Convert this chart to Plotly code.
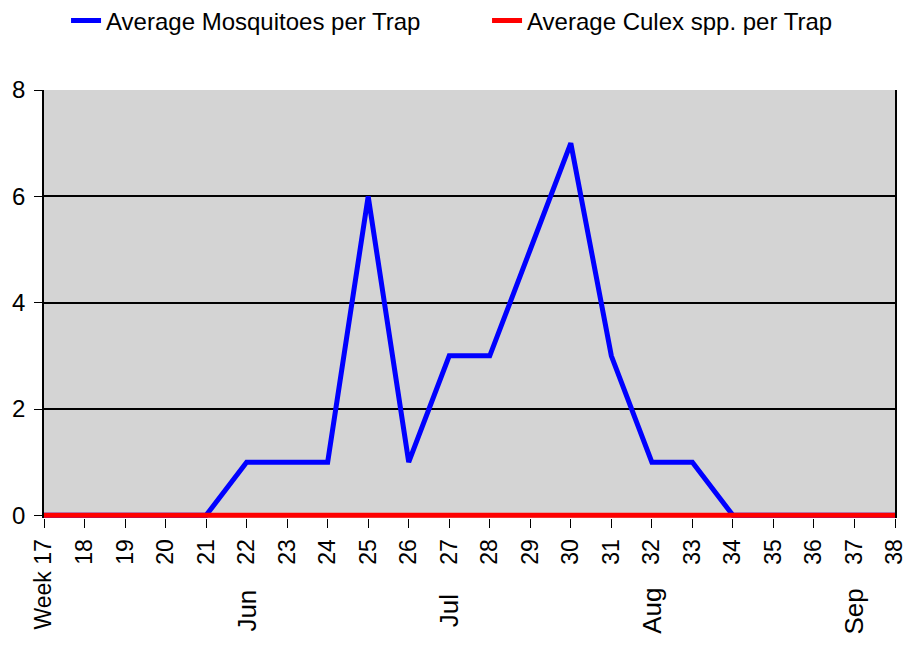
import plotly.graph_objects as go

weeks = list(range(17, 39))
week_labels = ["Week 17"] + [str(w) for w in range(18, 39)]
avg_mosquitoes = [0, 0, 0, 0, 0, 1, 1, 1, 6, 1, 3, 3, 5, 7, 3, 1, 1, 0, 0, 0, 0, 0]
avg_culex = [0] * 22
month_weeks = [22, 27, 32, 37]
month_labels = ["Jun", "Jul", "Aug", "Sep"]

FONT = "Arial, Liberation Sans, sans-serif"

fig = go.Figure()
fig.add_trace(go.Scatter(
    x=weeks, y=avg_mosquitoes, mode="lines",
    name="Average Mosquitoes per Trap",
    line=dict(color="#0000ff", width=5),
))
fig.add_trace(go.Scatter(
    x=weeks, y=avg_culex, mode="lines",
    name="Average Culex spp. per Trap",
    line=dict(color="#ff0000", width=5),
))

# month names sit below the week numbers
for w, m in zip(month_weeks, month_labels):
    fig.add_annotation(
        x=w, y=-0.2173, xref="x", yref="paper",
        text=m, textangle=-90, showarrow=False,
        xanchor="center", yanchor="middle",
        font=dict(family=FONT, size=26, color="black"),
    )

# page body adds an 8px margin, so the figure is 8px smaller
fig.update_layout(
    width=909, height=640,
    margin=dict(l=36, r=22, t=82, b=130, autoexpand=False),
    paper_bgcolor="white",
    plot_bgcolor="#d4d4d4",
    font=dict(family=FONT, size=22, color="black"),
    showlegend=True,
    legend=dict(
        orientation="h", x=0.0259, xref="paper", xanchor="left",
        y=1.214, yref="paper", yanchor="top",
        font=dict(family=FONT, size=24, color="black"),
        entrywidth=376, entrywidthmode="pixels",
        tracegroupgap=0,
    ),
)
fig.update_xaxes(
    range=[17, 38], tickvals=weeks, ticktext=week_labels,
    tickangle=-90, ticks="outside", ticklen=9, tickcolor="black",
    ticklabelstandoff=2,
    showgrid=False, zeroline=False, showline=False, automargin=False,
    tickfont=dict(family=FONT, size=23, color="black"),
)
fig.update_yaxes(
    range=[-0.05, 8], tickvals=[0, 2, 4, 6, 8],
    ticks="outside", ticklen=8, tickcolor="black",
    ticklabelstandoff=4,
    showgrid=True, gridcolor="black", gridwidth=1.5,
    zeroline=False, showline=True, linecolor="black", linewidth=1.5,
    mirror=True, automargin=False,
    tickfont=dict(family=FONT, size=24, color="black"),
)

fig.write_html("out.html")
